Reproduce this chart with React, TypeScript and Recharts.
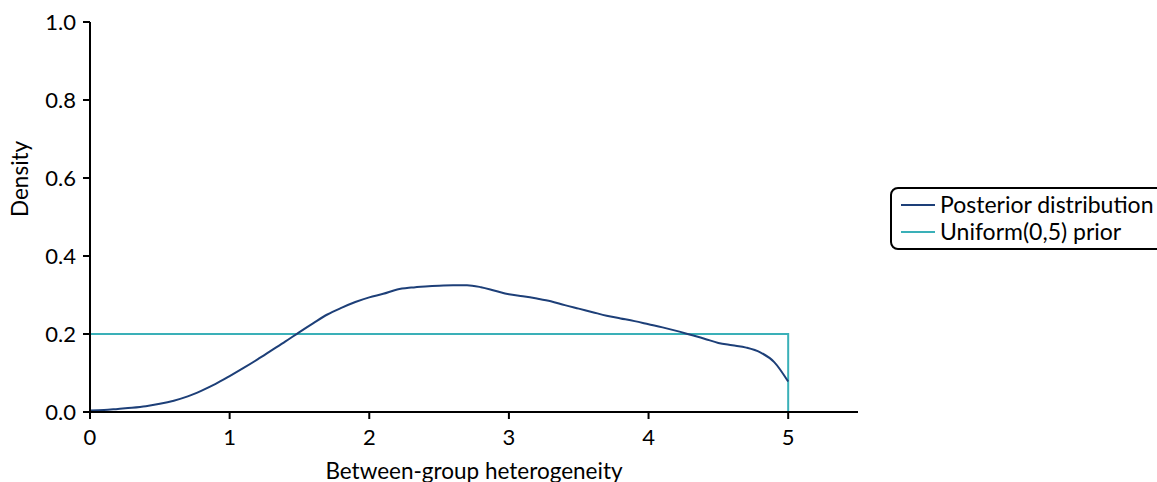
import { LineChart, Line, XAxis, YAxis } from 'recharts'

// posterior density of the between-group heterogeneity
const gridX = [
  0, 0.1, 0.2, 0.3, 0.4, 0.5, 0.6, 0.7, 0.8, 0.9,
  1.0, 1.1, 1.2, 1.3, 1.4, 1.5, 1.6, 1.7, 1.8, 1.9,
  2.0, 2.1, 2.2, 2.3, 2.4, 2.5, 2.6, 2.7, 2.8, 2.9,
  3.0, 3.1, 3.2, 3.3, 3.4, 3.5, 3.6, 3.7, 3.8, 3.9,
  4.0, 4.1, 4.2, 4.3, 4.4, 4.5, 4.6, 4.7, 4.8, 4.9, 5.0,
]
const posteriorDensity = [
  0.004, 0.005, 0.008, 0.011, 0.015, 0.021, 0.029, 0.04, 0.055, 0.072,
  0.092, 0.113, 0.135, 0.158, 0.181, 0.205, 0.228, 0.25, 0.267, 0.282,
  0.294, 0.303, 0.314, 0.319, 0.322, 0.324, 0.325, 0.325, 0.32, 0.311,
  0.302, 0.297, 0.291, 0.284, 0.274, 0.265, 0.256, 0.247, 0.24, 0.233,
  0.225, 0.217, 0.208, 0.198, 0.188, 0.177, 0.171, 0.165, 0.153, 0.128, 0.078,
]

// Uniform(0,5) prior outline
const priorX = [0, 5, 5]
const priorDensity = [0.2, 0.2, 0]

const xTicks = [0, 1, 2, 3, 4, 5]
const yTicks = [0, 0.2, 0.4, 0.6, 0.8, 1.0]

const NAVY = '#1d3f78'
const TEAL = '#3ab0b8'
const FONT = 'Lato, "Open Sans", sans-serif'
const FS = 22

const posterior = gridX.map((x, i) => ({ x, y: posteriorDensity[i] }))
const prior = priorX.map((x, i) => ({ x, y: priorDensity[i] }))

const legendItems = [
  { label: 'Posterior distribution', color: NAVY },
  { label: 'Uniform(0,5) prior', color: TEAL },
]

function LegendBox() {
  return (
    <div
      style={{
        position: 'absolute',
        left: 890,
        top: 187,
        width: 290,
        height: 57,
        border: '2px solid #000',
        borderRadius: 8,
        padding: '2px 0 0 9px',
        boxSizing: 'content-box',
        fontFamily: FONT,
        fontSize: 23,
        color: '#000',
        background: '#fff',
      }}
    >
      {legendItems.map((it) => (
        <div key={it.label} style={{ display: 'flex', alignItems: 'center', height: 27, lineHeight: '27px' }}>
          <span style={{ display: 'inline-block', width: 34, height: 2, background: it.color, marginRight: 5 }} />
          <span>{it.label}</span>
        </div>
      ))}
    </div>
  )
}

const tickStyle = { fill: '#000', fontSize: FS, fontFamily: FONT }

export default function App() {
  return (
    <div style={{ position: 'absolute', left: 0, top: 0, width: 1157, height: 482, overflow: 'hidden', background: '#fff' }}>
      <LineChart width={1157} height={482} margin={{ top: 22, right: 299, bottom: 0, left: 0 }}>
        <XAxis
          type="number"
          dataKey="x"
          domain={[0, 5.5]}
          ticks={xTicks}
          allowDataOverflow
          stroke="#000"
          strokeWidth={2}
          tickSize={7}
          tickMargin={10}
          tick={tickStyle}
          height={70}
          label={{ value: 'Between-group heterogeneity', position: 'insideBottom', offset: 3, fill: '#000', fontSize: 22.5, fontFamily: FONT }}
        />
        <YAxis
          type="number"
          dataKey="y"
          domain={[0, 1]}
          ticks={yTicks}
          tickFormatter={(v: number) => v.toFixed(1)}
          stroke="#000"
          strokeWidth={2}
          tickSize={7}
          tickMargin={7}
          tick={tickStyle}
          width={90}
          label={{ value: 'Density', angle: -90, position: 'insideLeft', offset: 20, fill: '#000', fontSize: 22.5, fontFamily: FONT }}
        />
        <Line
          data={prior}
          dataKey="y"
          type="linear"
          stroke={TEAL}
          strokeWidth={2}
          dot={false}
          isAnimationActive={false}
        />
        <Line
          data={posterior}
          dataKey="y"
          type="monotone"
          stroke={NAVY}
          strokeWidth={2}
          dot={false}
          isAnimationActive={false}
        />
      </LineChart>
      <LegendBox />
    </div>
  )
}
